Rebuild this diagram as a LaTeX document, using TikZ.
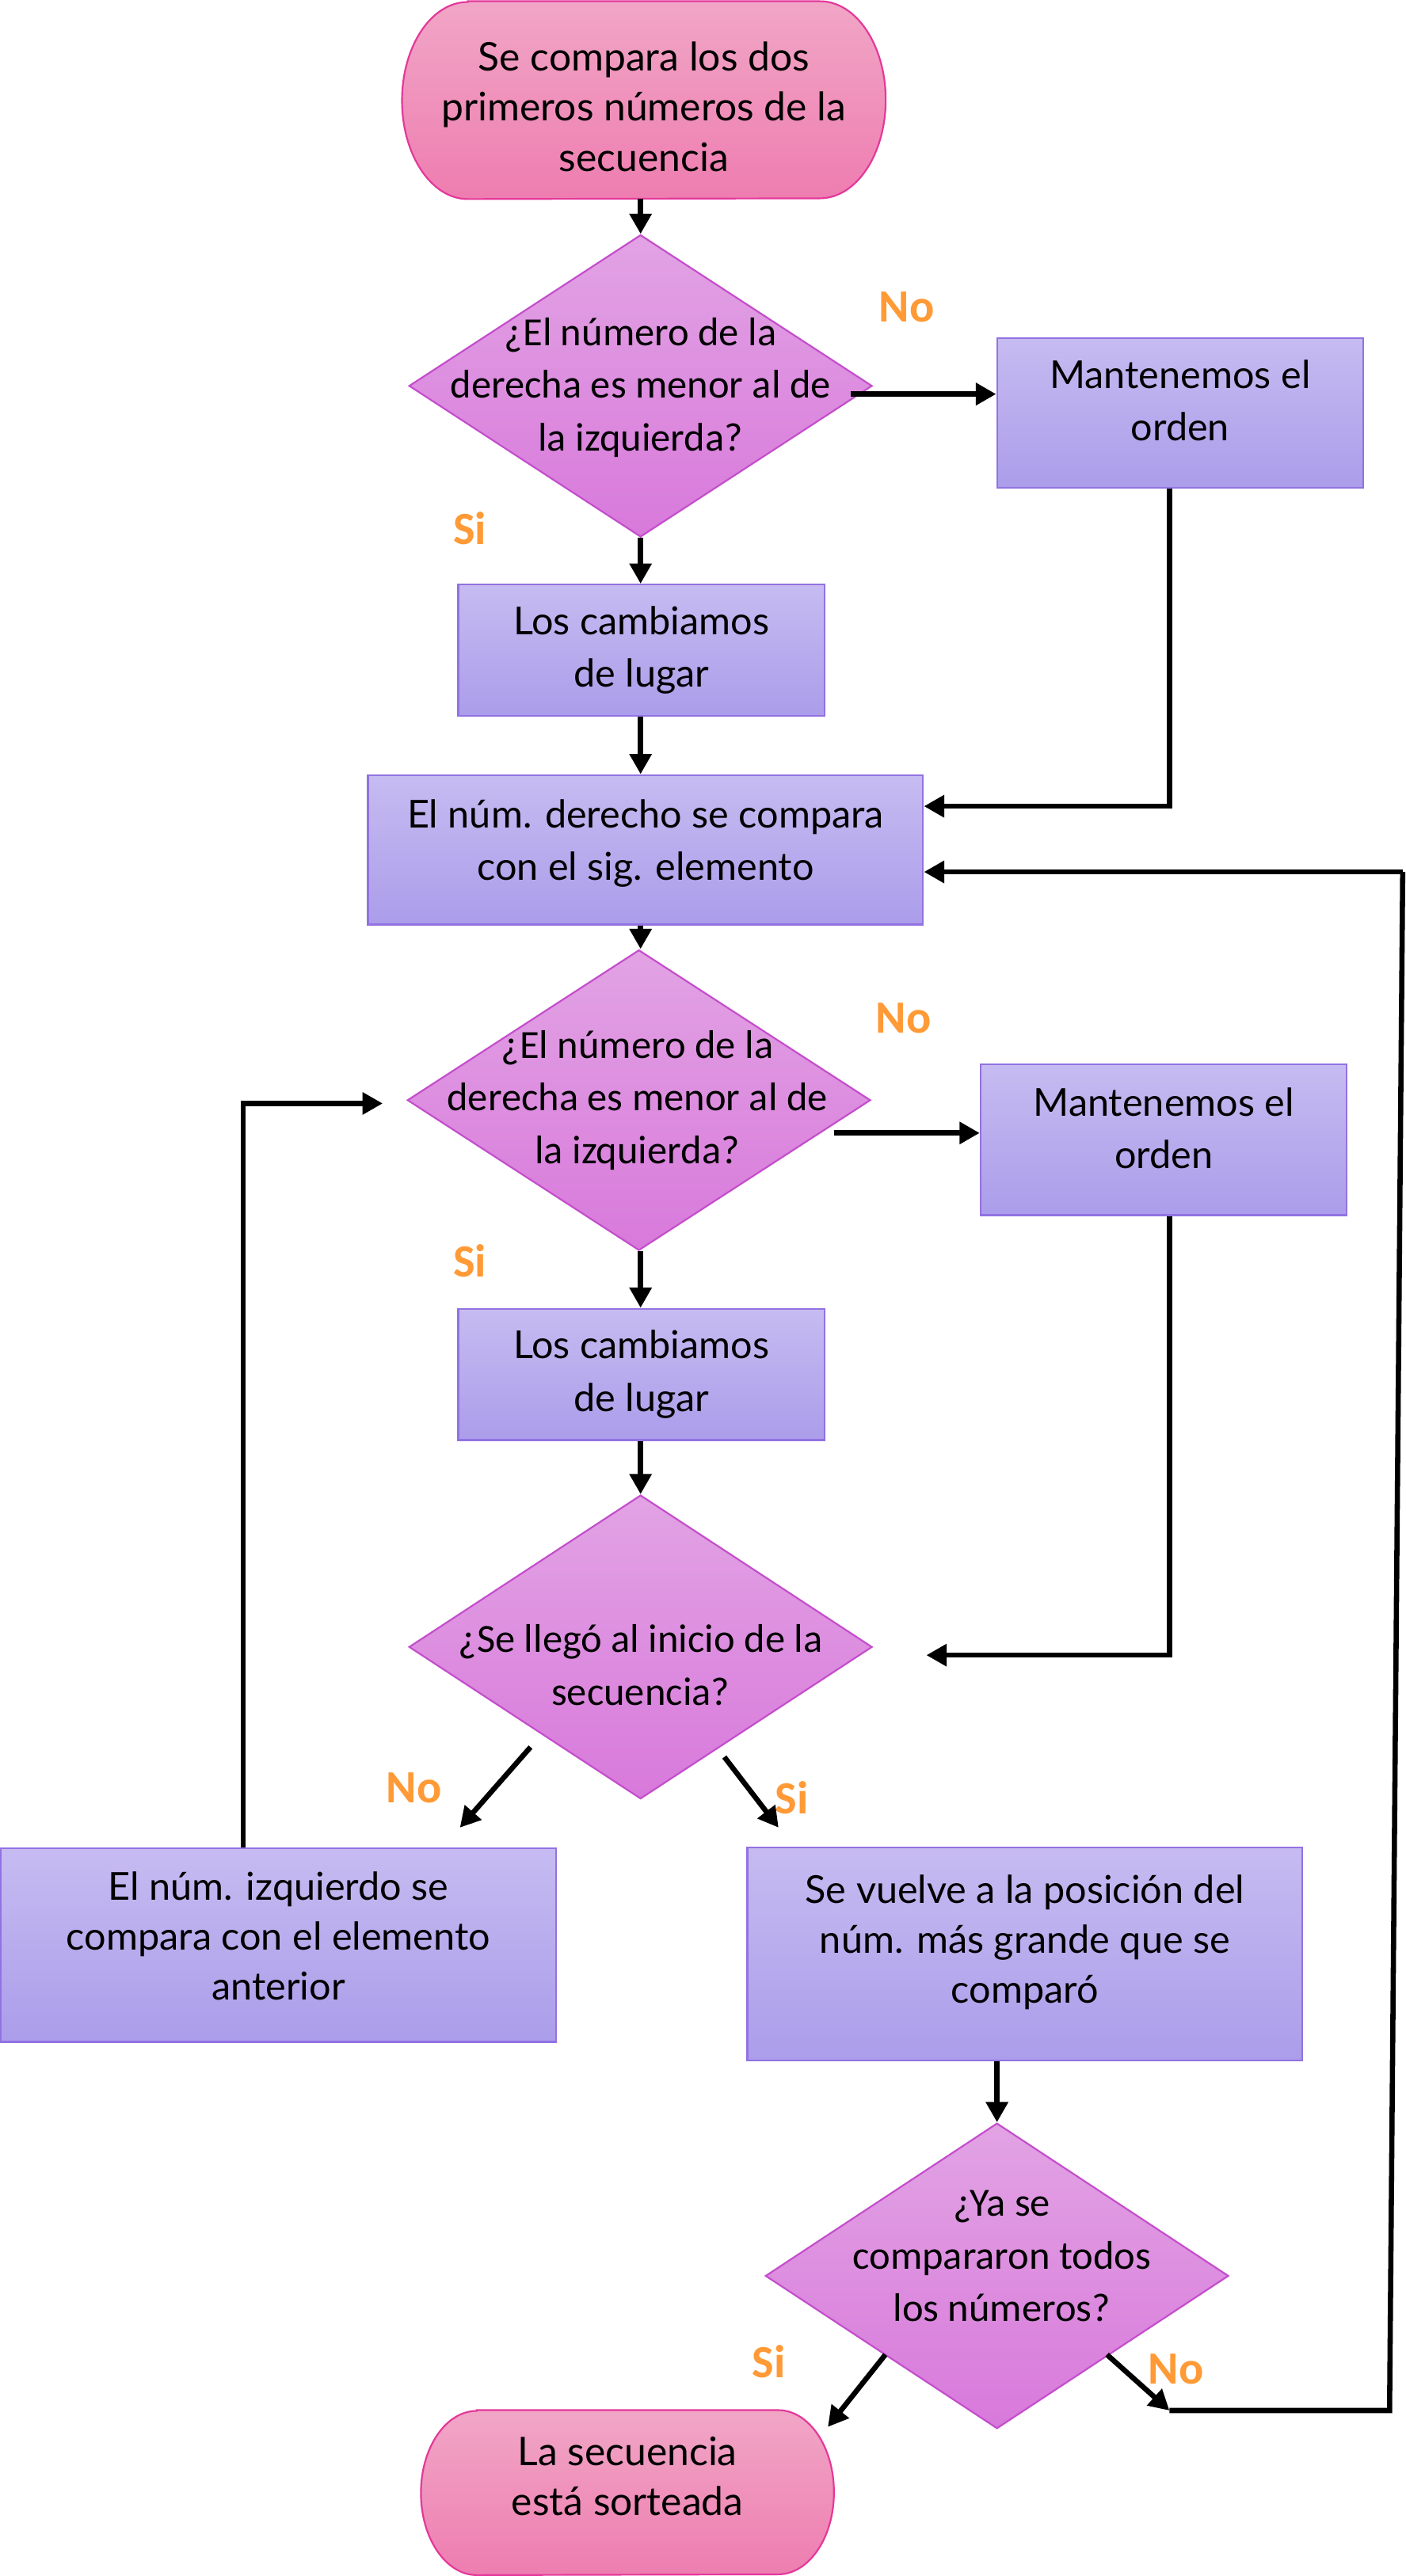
\documentclass[tikz,border=0pt]{standalone}
\usepackage{fontspec}
\setmainfont{Carlito}
\newfontfamily\boxfont{Lato}
\usetikzlibrary{shapes.geometric,arrows.meta,backgrounds}
\newdimen\ux \ux=0.03cm
\definecolor{boxtop}{HTML}{C6BBF1}
\definecolor{boxbot}{HTML}{AB9DEA}
\definecolor{boxdraw}{HTML}{9272E2}
\definecolor{diatop}{HTML}{E2A3E4}
\definecolor{diabot}{HTML}{D879DB}
\definecolor{diadraw}{HTML}{C44ECC}
\definecolor{termtop}{HTML}{F1A6C6}
\definecolor{termbot}{HTML}{EE7DB0}
\definecolor{termdraw}{HTML}{E4389A}
\definecolor{lblorange}{HTML}{FF9A36}
\begin{document}
\begin{tikzpicture}[x=0.03cm,y=-0.03cm,
  boxnode/.style={rectangle, draw=boxdraw, line width=0.9pt, top color=boxtop, bottom color=boxbot, inner sep=0pt},
  boxtext/.style={align=center, inner sep=0pt, font=\boxfont\fontsize{20}{27.3}\selectfont},
  dianode/.style={diamond, draw=diadraw, line width=0.9pt, top color=diatop, bottom color=diabot, inner sep=0pt},
  diatext/.style={align=center, inner sep=0pt, font=\fontsize{20.8}{27.3}\selectfont},
  termnode/.style={rectangle, inner sep=0pt},
  termtext/.style={align=center, inner sep=0pt, font=\boxfont\fontsize{20.5}{26}\selectfont},
  termshape/.style={draw=termdraw, line width=0.9pt, top color=termtop, bottom color=termbot},
  lbl/.style={text=lblorange, font=\bfseries\fontsize{24}{24}\selectfont, inner sep=0pt},
  arr/.style={line width=2.7pt, -{Triangle[length=0.37cm,width=0.39cm]}},
  plain/.style={line width=2.7pt}]
\useasboundingbox (0,0) rectangle (856,1568.8);
% shapes
\node[termnode, minimum width=294\ux, minimum height=120\ux] (start) at (392,61) {};
\node[dianode, minimum width=282\ux, minimum height=184\ux] (d1) at (390,235) {};
\node[boxnode, minimum width=223\ux, minimum height=91\ux] (m1) at (718.5,251.5) {};
\node[boxnode, minimum width=223\ux, minimum height=80\ux] (c1) at (390.5,396) {};
\node[boxnode, minimum width=338\ux, minimum height=91\ux] (e1) at (393,517.5) {};
\node[dianode, minimum width=282\ux, minimum height=183\ux] (d2) at (389,670) {};
\node[boxnode, minimum width=223\ux, minimum height=92\ux] (m2) at (708.5,694) {};
\node[boxnode, minimum width=223\ux, minimum height=80\ux] (c2) at (390.5,837) {};
\node[dianode, minimum width=282\ux, minimum height=185\ux] (d3) at (390,1003) {};
\node[boxnode, minimum width=338\ux, minimum height=118\ux] (L) at (169.5,1184.5) {};
\node[boxnode, minimum width=338\ux, minimum height=130\ux] (R) at (624,1190) {};
\node[dianode, minimum width=282\ux, minimum height=186\ux] (d4) at (607,1386) {};
\node[termnode, minimum width=251\ux, minimum height=100\ux] (fin) at (382,1518) {};
% terminal outlines
\begin{scope}[on background layer]
\fill[white] (0,0) rectangle (856,1568.8);
\path[termshape] ([xshift=1.2cm]start.north west) -- ([xshift=-1.2cm]start.north east)
  arc[start angle=90, end angle=-90, x radius=1.2cm, y radius=1.8cm]
  -- ([xshift=1.2cm]start.south west)
  arc[start angle=270, end angle=90, x radius=1.2cm, y radius=1.8cm] -- cycle;
\path[termshape] ([xshift=1.02cm]fin.north west) -- ([xshift=-1.02cm]fin.north east)
  arc[start angle=90, end angle=-90, x radius=1.02cm, y radius=1.5cm]
  -- ([xshift=1.02cm]fin.south west)
  arc[start angle=270, end angle=90, x radius=1.02cm, y radius=1.5cm] -- cycle;
\end{scope}
% texts
\node[termtext] (startt) at (392,65) {Se compara los dos\\primeros números de la\\secuencia};
\node[diatext] (d1t) at (390,236) {¿El número de la\\derecha es menor al de\\la izquierda?};
\node[boxtext] (m1t) at (718.5,244) {Mantenemos el\\orden};
\node[boxtext] (c1t) at (390.5,396) {Los cambiamos\\de lugar};
\node[boxtext] (e1t) at (393,513.5) {El núm. derecho se compara\\con el sig. elemento};
\node[diatext] (d2t) at (388,670) {¿El número de la\\derecha es menor al de\\la izquierda?};
\node[boxtext] (m2t) at (708.5,687) {Mantenemos el\\orden};
\node[boxtext] (c2t) at (390.5,837) {Los cambiamos\\de lugar};
\node[diatext] (d3t) at (390,1014) {¿Se llegó al inicio de la\\secuencia?};
\node[boxtext, font=\boxfont\fontsize{20}{26}\selectfont] (Lt) at (169.5,1179) {El núm. izquierdo se\\compara con el elemento\\anterior};
\node[boxtext, font=\boxfont\fontsize{20}{26}\selectfont] (Rt) at (624,1183) {Se vuelve a la posición del\\núm. más grande que se\\comparó};
\node[diatext] (d4t) at (610,1374) {¿Ya se\\compararon todos\\los números?};
\node[termtext] (fint) at (382,1508) {La secuencia\\está sorteada};
% labels
\node[lbl] (n1) at (552,187) {No};
\node[lbl] (s1) at (286,322) {Si};
\node[lbl] (n2) at (550,620) {No};
\node[lbl] (s2) at (286,768) {Si};
\node[lbl] (n3) at (252,1089) {No};
\node[lbl] (s3) at (482,1095) {Si};
\node[lbl] (s4) at (468,1438) {Si};
\node[lbl] (n4) at (716,1443) {No};
% coordinates
\coordinate (d1o) at (518,240);
\coordinate (d2o) at (508,690);
\coordinate (d2in) at (233,672);
\coordinate (d3in) at (564,1008);
\coordinate (d3a) at (323,1064);
\coordinate (Ltip) at (280,1113);
\coordinate (d3b) at (441,1070);
\coordinate (Rtip) at (474,1113);
\coordinate (d4a) at (539,1434);
\coordinate (fintip) at (504,1478);
\coordinate (d4b) at (674,1434);
\coordinate (looptip) at (712,1468);
\coordinate (loopA) at (846,1468);
\coordinate (loopB) at (854,531);
% connectors
\draw[arr] (d1.north |- start.south) -- (d1.north);
\draw[arr] (d1o) -- (d1o -| m1.west);
\draw[arr] (d1.south) -- (d1.south |- c1.north);
\draw[arr] (d1.south |- c1.south) -- (d1.south |- e1.north);
\draw[arr] ([xshift=-0.195cm]m1.south) |- ([yshift=0.795cm]e1.east);
\draw[arr] (d1.south |- e1.south) -- (d1.south |- d2.north);
\draw[arr] (d2o) -- (d2o -| m2.west);
\draw[arr] (d3.north |- d2.south) -- (d3.north |- c2.north);
\draw[arr] (d3.north |- c2.south) -- (d3.north);
\draw[arr] ([xshift=0.105cm]m2.south) |- (d3in);
\draw[arr] (d3a) -- (Ltip);
\draw[arr] (d3b) -- (Rtip);
\draw[arr] ([xshift=-0.645cm]L.north) |- (d2in);
\draw[arr] (d4.north |- R.south) -- (d4.north);
\draw[arr] (d4a) -- (fintip);
\draw[arr] (d4b) -- (looptip);
\draw[plain, line join=miter] (looptip) -- (loopA) -- (loopB);
\draw[arr] (loopB) -- (loopB -| e1.east);
\end{tikzpicture}
\end{document}
